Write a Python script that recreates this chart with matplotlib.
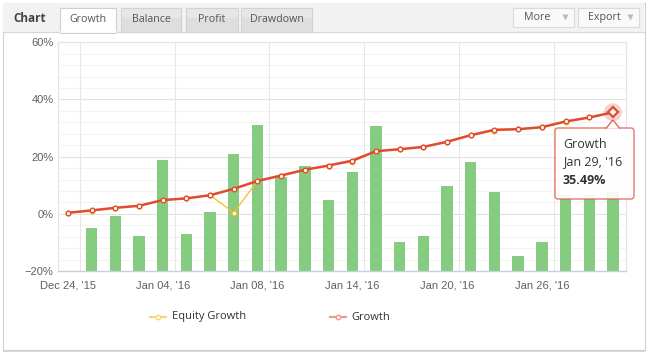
import numpy as np
import matplotlib
matplotlib.use('Agg')
import matplotlib.pyplot as plt
from matplotlib.patches import Rectangle, FancyBboxPatch, Polygon, Circle

# values (percent)
growth = [0.35, 1.2, 2.1, 2.8, 4.8, 5.4, 6.5, 8.75, 11.5, 13.4, 15.4, 16.9,
          18.6, 21.9, 22.6, 23.4, 25.2, 27.5, 29.4, 29.6, 30.3, 32.3, 33.7, 35.49]
equity = [0.35, 1.0, 2.1, 2.8, 4.8, 5.4, 6.5, 0.4, 11.5, 13.4, 15.4, 16.9,
          18.2, 21.9, 22.6, 23.4, 25.2, 27.5, 29.1, 29.6, 30.3, 32.1, 33.7, 35.49]
bars = [np.nan, -5.1, -0.7, -7.7, 18.7, -6.9, 0.5, 21.1, 30.9, 13.0, 16.7, 4.8,
        14.8, 30.6, -10.0, -7.9, 9.9, 18.0, 7.5, -14.9, -9.7, 6.5, 6.5, 7.7]
tick_pos = [0, 4, 8, 12, 16, 20]
tick_labels = ["Dec 24, '15", "Jan 04, '16", "Jan 08, '16", "Jan 14, '16",
               "Jan 20, '16", "Jan 26, '16"]
tabs = ['Growth', 'Balance', 'Profit', 'Drawdown']

W, H = 648, 354
fig = plt.figure(figsize=(W / 100, H / 100), dpi=100)
UI = ['Open Sans', 'DejaVu Sans']

# background / frame layer in pixel coords
bg = fig.add_axes([0, 0, 1, 1], zorder=0)
bg.set_xlim(0, W)
bg.set_ylim(H, 0)
bg.axis('off')
bg.add_patch(Rectangle((3, 4), 642, 348, fc='#d8d8d8', ec='none'))  # shadow
bg.add_patch(Rectangle((2.5, 2.5), 642, 347, fc='white', ec='#d0d0d0', lw=0.8))
bg.add_patch(Rectangle((3, 3), 641, 29, fc='#f2f2f2', ec='none'))
bg.plot([3, 644], [32, 32], color='#d6d6d6', lw=0.8)
bg.text(30, 18.5, 'Chart', family=UI, fontsize=8.5, weight='bold', color='#444444',
        ha='center', va='center')

tab_x = [(60, 116), (121, 181), (186, 238), (241, 312)]
for (x0, x1), name in zip(tab_x, tabs):
    if name == 'Growth':
        bg.add_patch(Rectangle((x0, 8), x1 - x0, 24.5, fc='white', ec='#d0d0d0', lw=0.8))
        bg.plot([x0 + 0.5, x1 - 0.5], [32, 32], color='white', lw=1.2)
    else:
        bg.add_patch(Rectangle((x0, 8), x1 - x0, 23.5, fc='#dedede', ec='#d2d2d2', lw=0.8))
        bg.add_patch(Rectangle((x0 + 0.5, 8.5), x1 - x0 - 1, 9, fc='#e6e6e6', ec='none'))
    bg.text((x0 + x1) / 2, 20, name, family=UI, fontsize=7.7, color='#555555',
            ha='center', va='center')

for (x0, x1), name, tx in [((513, 574), 'More', 537), ((578, 639), 'Export', 604)]:
    bg.add_patch(Rectangle((x0, 8), x1 - x0, 19, fc='#f9f9f9', ec='#dadada', lw=0.8))
    bg.text(tx, 17.5, name, family=UI, fontsize=7.7, color='#555555', ha='center', va='center')
    bg.plot([x1 - 9], [17], marker='v', ms=5, color='#bbbbbb', mec='none')

# legend
bg.plot([150, 166], [317, 317], color='#fad66e', lw=1.5)
bg.plot([158], [317], marker='o', ms=3.2, mfc='white', mec='#fad66e', mew=1)
bg.text(172, 317, 'Equity Growth', family=UI, fontsize=8, color='#333333', va='center')
bg.plot([330, 346], [317, 317], color='#ee9a90', lw=1.5)
bg.plot([338], [317], marker='o', ms=3.2, mfc='white', mec='#ee9a90', mew=1)
bg.text(351, 317, 'Growth', family=UI, fontsize=8, color='#333333', va='center')

# plot area
L, R, T, B = 57.7, 625.7, 42.3, 271.0
ax = fig.add_axes([L / W, 1 - B / H, (R - L) / W, (B - T) / H], zorder=1)
ax.patch.set_alpha(0)
x = np.arange(len(growth))
ax.set_xlim(-0.43, 23.54)
ax.set_ylim(-20, 60)

for v in np.arange(-20, 61, 4):
    if v % 20:
        ax.axhline(v, color='#f3f3f3', lw=0.8, zorder=0)
for v in [0, 20, 40, 60]:
    ax.axhline(v, color='#e2e2e2', lw=0.8, zorder=0)
for v in [0.5, 4.5, 8.5, 12.5, 16.5, 20.5]:
    ax.axvline(v, color='#e6e6e6', lw=0.8, zorder=0)

b = np.array(bars)
ax.bar(x, b + 20, bottom=-20, width=0.48, color='#86cc80', zorder=2)
ax.plot(x, equity, color='#f6bd1c', lw=0.9, marker='o', ms=3.3, mfc='white',
        mec='#f6bd1c', mew=1, zorder=3)
ax.plot(x, growth, color='#e24a30', lw=1.8, marker='o', ms=3.3, mfc='white',
        mec='#e24a30', mew=1, zorder=4)

for s in ['top', 'left', 'right']:
    ax.spines[s].set_color('#e4e4e4')
    ax.spines[s].set_linewidth(0.8)
ax.spines['bottom'].set_color('#c4d0dc')
ax.spines['bottom'].set_linewidth(1)

ax.set_yticks([-20, 0, 20, 40, 60])
ax.set_yticklabels(['\u221220%', '0%', '20%', '40%', '60%'])
ax.set_xticks(tick_pos)
ax.set_xticklabels(tick_labels)
ax.tick_params(length=0, labelsize=8, colors='#606060')
ax.tick_params(axis='y', pad=3)
ax.tick_params(axis='x', pad=7)
for lab in ax.get_xticklabels() + ax.get_yticklabels():
    lab.set_family('Liberation Sans')

# hovered point and tooltip
top = fig.add_axes([0, 0, 1, 1], zorder=2)
top.set_xlim(0, W)
top.set_ylim(H, 0)
top.axis('off')
fig.canvas.draw()
px, py = ax.transData.transform((x[-1], growth[-1]))
py = H - py
top.add_patch(Circle((px, py), 9, fc='#e24a30', alpha=0.25, ec='none'))
top.plot([px], [py], marker='D', ms=5.5, mfc='white', mec='#e24a30', mew=1.6)

bx0, bx1, by0, by1 = 555, 634, 128, 199
top.add_patch(FancyBboxPatch((bx0, by0), bx1 - bx0, by1 - by0,
                             boxstyle='round,pad=0,rounding_size=3',
                             fc='white', ec='#e05a4a', lw=0.9, alpha=0.9))
top.add_patch(Polygon([[px - 7, by0 + 0.6], [px, by0 - 8], [px + 7, by0 + 0.6]],
                      closed=False, fc='white', ec='#e05a4a', lw=0.9))
top.text(563, 144, 'Growth', family=UI, fontsize=9, color='#333333', va='center')
top.text(563, 162, "Jan 29, '16", family=UI, fontsize=9, color='#333333', va='center')
top.text(563, 180, '35.49%', family=UI, fontsize=9, weight='bold', color='#333333',
         va='center')

fig.savefig('out.png', dpi=100)
